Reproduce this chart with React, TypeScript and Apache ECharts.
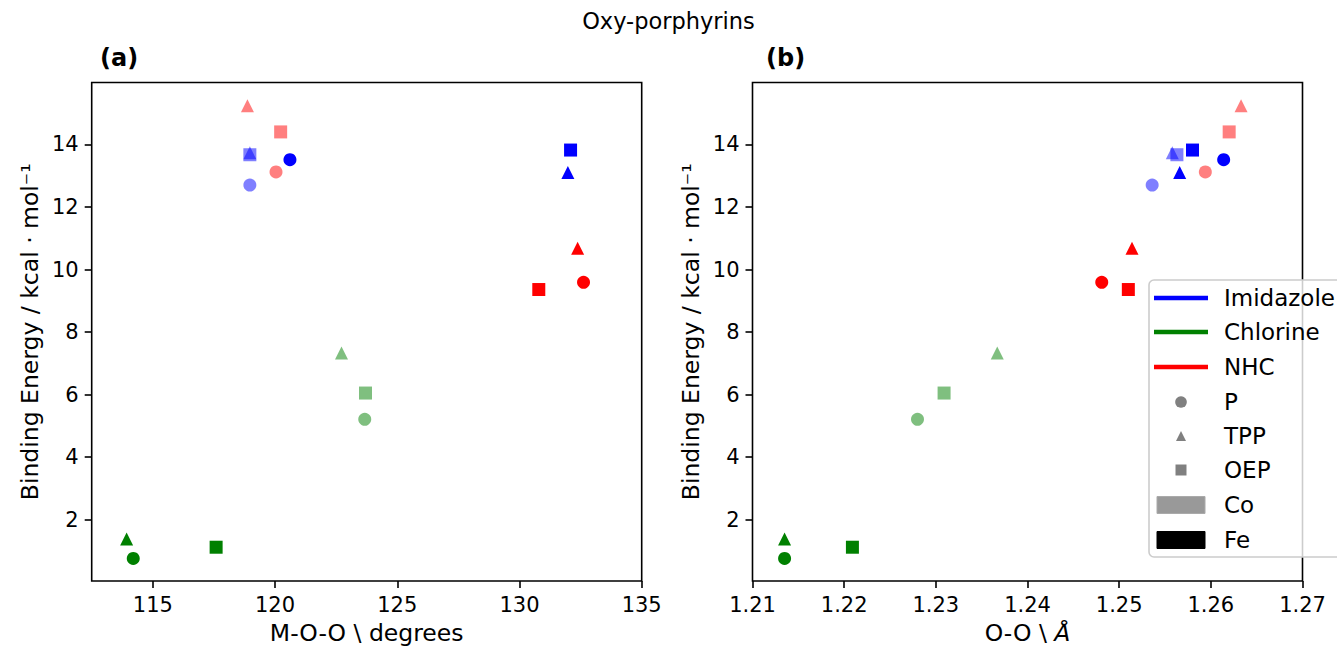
import React, { useEffect, useRef } from "react";
import * as echarts from "echarts";

// ---- data ----
const ligands = ["Imidazole", "Chlorine", "NHC"];
const porphyrins = ["P", "TPP", "OEP"];
const metals = ["Co", "Fe"];
// order of each array: Imidazole(P,TPP,OEP), Chlorine(P,TPP,OEP), NHC(P,TPP,OEP)
const coEnergy = [12.7, 13.73, 13.67, 5.21, 7.33, 6.05, 13.12, 15.24, 14.4];
const feEnergy = [13.51, 13.1, 13.82, 0.76, 1.38, 1.12, 9.59, 10.68, 9.36];
const coAngle = [118.97, 118.97, 118.97, 123.67, 122.72, 123.7, 120.04, 118.87, 120.23];
const feAngle = [120.61, 131.98, 132.09, 114.2, 113.93, 117.59, 132.62, 132.38, 130.79];
const coOO = [1.2536, 1.2558, 1.2563, 1.228, 1.2367, 1.2309, 1.2594, 1.2633, 1.262];
const feOO = [1.2614, 1.2566, 1.258, 1.2135, 1.2135, 1.2209, 1.2481, 1.2514, 1.251];
const angleTicks = [115, 120, 125, 130, 135];
const ooTicks = [1.21, 1.22, 1.23, 1.24, 1.25, 1.26, 1.27];
const energyTicks = [2, 4, 6, 8, 10, 12, 14];

// ---- styles ----
const ligandColors = ["#0000ff", "#008000", "#ff0000"];
const metalOpacity = [0.5, 1];
const porphyrinSymbols = ["circle", "triangle", "rect"];
const FONT = "DejaVu Sans";

export default function App() {
  const ref = useRef<HTMLDivElement>(null);
  useEffect(() => {
    if (!ref.current) return;
    const chart = echarts.init(ref.current, null, { renderer: "svg" });
    const energies = [coEnergy, feEnergy];
    const angles = [coAngle, feAngle];
    const oos = [coOO, feOO];
    const series: any[] = [];
    metals.forEach((m, mi) => {
      ligands.forEach((lig, li) => {
        porphyrins.forEach((p, pi) => {
          const idx = li * 3 + pi;
          const common = {
            type: "scatter",
            name: `${m} ${lig} ${p}`,
            symbol: porphyrinSymbols[pi],
            symbolSize: 13,
            itemStyle: { color: ligandColors[li], opacity: metalOpacity[mi] },
            emphasis: { disabled: true },
          };
          series.push({ ...common, xAxisIndex: 0, yAxisIndex: 0, data: [[angles[mi][idx], energies[mi][idx]]] });
          series.push({ ...common, xAxisIndex: 1, yAxisIndex: 1, data: [[oos[mi][idx], energies[mi][idx]]] });
        });
      });
    });

    const tickStyle = { show: true, length: 7, lineStyle: { color: "#000", width: 1.6 } };
    const labelStyle = { color: "#000", fontSize: 21, fontFamily: FONT, margin: 13 };
    const nameStyle = { color: "#000", fontSize: 23.5, fontFamily: FONT };

    const yAxis = (gi: number) => ({
      type: "value",
      gridIndex: gi,
      min: 0.04,
      max: 15.98,
      name: "Binding Energy / kcal · mol⁻¹",
      nameLocation: "middle",
      nameGap: 50,
      nameTextStyle: nameStyle,
      axisLine: { show: false },
      splitLine: { show: false },
      axisTick: { ...tickStyle, customValues: energyTicks },
      axisLabel: { ...labelStyle, customValues: energyTicks },
    });

    const legendItems: any[] = [];
    const lx = 1149, ly = 280;
    legendItems.push({
      type: "rect",
      shape: { x: lx, y: ly, width: 220, height: 277, r: 5 },
      style: { fill: "rgba(255,255,255,0.8)", stroke: "#cccccc", lineWidth: 1.6 },
    });
    const rowY = [298, 332, 367, 402, 436, 470, 505, 540];
    const texts = [...ligands, ...porphyrins, ...metals];
    ligands.forEach((_, i) => {
      legendItems.push({
        type: "line",
        shape: { x1: 1154, y1: rowY[i], x2: 1208, y2: rowY[i] },
        style: { stroke: ligandColors[i], lineWidth: 4.5 },
      });
    });
    legendItems.push({ type: "circle", shape: { cx: 1181, cy: rowY[3], r: 5.8 }, style: { fill: "#808080" } });
    legendItems.push({
      type: "polygon",
      shape: { points: [[1181, rowY[4] - 5], [1176, rowY[4] + 5], [1186, rowY[4] + 5]] },
      style: { fill: "#808080" },
    });
    legendItems.push({ type: "rect", shape: { x: 1175.5, y: rowY[5] - 5.5, width: 11, height: 11 }, style: { fill: "#808080" } });
    legendItems.push({
      type: "rect",
      shape: { x: 1157, y: rowY[6] - 8.5, width: 48, height: 17 },
      style: { fill: "#999999", stroke: "#aaaaaa", lineWidth: 1 },
    });
    legendItems.push({
      type: "rect",
      shape: { x: 1157, y: rowY[7] - 8.5, width: 48, height: 17 },
      style: { fill: "#000000", stroke: "#000000", lineWidth: 1 },
    });
    texts.forEach((t, i) => {
      legendItems.push({
        type: "text",
        x: 1224,
        y: rowY[i],
        style: { text: t, fill: "#000", fontSize: 23, fontFamily: FONT, verticalAlign: "middle", align: "left" },
      });
    });

    chart.setOption({
      animation: false,
      textStyle: { fontFamily: FONT },
      title: [
        { text: "Oxy-porphyrins", left: "center", top: 9, padding: 0, textStyle: { fontSize: 22.5, fontWeight: "normal", color: "#000", fontFamily: FONT } },
        { text: "(a)", left: 100, top: 46, padding: 0, textStyle: { fontSize: 24, fontWeight: "bold", color: "#000", fontFamily: FONT } },
        { text: "(b)", left: 766, top: 46, padding: 0, textStyle: { fontSize: 24, fontWeight: "bold", color: "#000", fontFamily: FONT } },
      ],
      grid: [
        { left: 91.7, top: 82.5, width: 550, height: 501.5, show: true, borderColor: "#000", borderWidth: 1.6, backgroundColor: "transparent" },
        { left: 752.5, top: 82.5, width: 550, height: 501.5, show: true, borderColor: "#000", borderWidth: 1.6, backgroundColor: "transparent" },
      ],
      xAxis: [
        {
          type: "value",
          gridIndex: 0,
          min: 112.5,
          max: 135,
          name: "M-O-O \\ degrees",
          nameLocation: "middle",
          nameGap: 40,
          nameTextStyle: nameStyle,
          axisLine: { show: false },
          splitLine: { show: false },
          axisTick: { ...tickStyle, customValues: angleTicks },
          axisLabel: { ...labelStyle, customValues: angleTicks },
        },
        {
          type: "value",
          gridIndex: 1,
          min: 1.21,
          max: 1.27,
          name: "O-O \\ {i|Å}",
          nameLocation: "middle",
          nameGap: 40,
          nameTextStyle: { ...nameStyle, rich: { i: { fontStyle: "italic", fontSize: 23.5, fontFamily: FONT, color: "#000" } } },
          axisLine: { show: false },
          splitLine: { show: false },
          axisTick: { ...tickStyle, customValues: ooTicks },
          axisLabel: { ...labelStyle, customValues: ooTicks, formatter: (v: number) => v.toFixed(2) },
        },
      ],
      yAxis: [yAxis(0), yAxis(1)],
      graphic: [{ type: "group", z: -1, children: legendItems }],
      series,
    });
    return () => chart.dispose();
  }, []);
  return <div ref={ref} style={{ position: "absolute", left: 0, top: 0, width: 1337, height: 650 }} />;
}
